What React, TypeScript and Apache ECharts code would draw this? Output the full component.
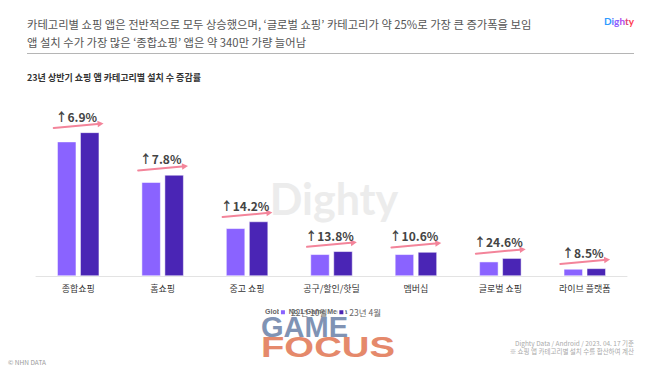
import React, { useEffect, useRef } from "react";
import * as echarts from "echarts";

const categories = ["종합쇼핑", "홈쇼핑", "중고 쇼핑", "공구/할인/핫딜", "멤버십", "글로벌 쇼핑", "라이브 플랫폼"];
const seriesNames = ["22년 10월", "23년 4월"];
const oct22 = [4930, 3440, 1750, 796, 796, 525, 257];
const apr23 = [5270, 3708, 1999, 906, 880, 654, 279];
const growthPct = [6.9, 7.8, 14.2, 13.8, 10.6, 24.6, 8.5];
const headline = [
  "카테고리별 쇼핑 앱은 전반적으로 모두 상승했으며, ‘글로벌 쇼핑’ 카테고리가 약 25%로 가장 큰 증가폭을 보임",
  "앱 설치 수가 가장 많은 ‘종합쇼핑’ 앱은 약 340만 가량 늘어남",
];
const chartTitle = "23년 상반기 쇼핑 앱 카테고리별 설치 수 증감률";
const footnotes = ["Dighty Data / Android / 2023. 04. 17 기준", "※ 쇼핑 앱 카테고리별 설치 수를 합산하여 계산"];
const copyright = "© NHN DATA";
const logoLetters = ["D", "i", "g", "h", "t", "y"];
const logoColors = ["#2F9BFF", "#5A7BFF", "#8A5CFF", "#B04AF0", "#E0407A", "#FF3B50"];

const FONT = '"Noto Sans CJK KR", "Noto Sans", sans-serif';

export default function App() {
  const ref = useRef<HTMLDivElement>(null);
  useEffect(() => {
    document.body.style.margin = "0";
    const chart = echarts.init(ref.current!, undefined, { renderer: "svg" });
    const pink = "#F3849A";
    const rich: any = {};
    logoLetters.forEach((_, i) => {
      rich["l" + i] = {
        fill: logoColors[i],
        font: 'bold 10px Lato, "Open Sans", sans-serif',
      };
    });
    const logoText = logoLetters.map((c, i) => `{l${i}|${c}}`).join("");
    const option: any = {
      animation: false,
      backgroundColor: "#ffffff",
      textStyle: { fontFamily: FONT },
      grid: { left: 36, right: 33, top: 112.5, bottom: 94, containLabel: false },
      legend: {
        data: seriesNames,
        top: 303,
        left: "center",
        icon: "rect",
        itemWidth: 6,
        itemHeight: 6,
        itemGap: 10,
        textStyle: { fontSize: 8.5, color: "#666", fontFamily: FONT },
      },
      xAxis: {
        type: "category",
        data: categories,
        axisLine: { lineStyle: { color: "#e3e3e3", width: 1 } },
        axisTick: { show: false },
        axisLabel: { fontSize: 9, color: "#333", margin: 8, fontFamily: FONT },
      },
      yAxis: {
        type: "value",
        min: 0,
        max: 6000,
        show: false,
        splitLine: { show: false },
      },
      graphic: [
        {
          type: "text",
          z: -10,
          x: 334,
          y: 198,
          style: {
            text: "Dighty",
            font: 'bold 43px Lato, "Open Sans", sans-serif',
            fill: "#ececec",
            align: "center",
            verticalAlign: "middle",
          },
        },
        {
          type: "text",
          x: 27,
          y: 24,
          style: { text: headline[0], font: `11.3px ${FONT}`, fill: "#555", verticalAlign: "middle" },
        },
        {
          type: "text",
          x: 27,
          y: 42,
          style: { text: headline[1], font: `11.3px ${FONT}`, fill: "#555", verticalAlign: "middle" },
        },
        {
          type: "line",
          shape: { x1: 27, y1: 53.5, x2: 634, y2: 53.5 },
          style: { stroke: "#b5b5b5", lineWidth: 1 },
        },
        {
          type: "text",
          x: 634,
          y: 21,
          style: {
            text: logoText,
            rich,
            align: "right",
            verticalAlign: "middle",
          },
        },
        {
          type: "text",
          x: 27,
          y: 77,
          style: { text: chartTitle, font: `bold 9px ${FONT}`, fill: "#333", verticalAlign: "middle" },
        },
        {
          type: "text",
          x: 634,
          y: 343,
          style: { text: footnotes[0], font: `6.5px ${FONT}`, fill: "#aaa", align: "right", verticalAlign: "middle" },
        },
        {
          type: "text",
          x: 634,
          y: 351,
          style: { text: footnotes[1], font: `6.5px ${FONT}`, fill: "#aaa", align: "right", verticalAlign: "middle" },
        },
        {
          type: "text",
          x: 8,
          y: 362,
          style: { text: copyright, font: `6.5px ${FONT}`, fill: "#999", verticalAlign: "middle" },
        },
        {
          type: "group",
          z: 100,
          children: [
            {
              type: "text",
              x: 265,
              y: 311,
              style: { text: "Global No.1 Game Media", font: 'bold 7px "Liberation Sans", sans-serif', fill: "#666", verticalAlign: "middle" },
            },
            {
              type: "text",
              x: 261,
              y: 327,
              style: { text: "GAME", font: 'bold 29px "Liberation Sans", sans-serif', fill: "#8093B4", verticalAlign: "middle" },
            },
            {
              type: "text",
              x: 261,
              y: 347,
              scaleX: 1.32,
              style: { text: "FOCUS", font: 'bold 29px "Liberation Sans", sans-serif', fill: "#E5896B", verticalAlign: "middle" },
            },
          ],
        },
      ],
      series: [
        {
          name: seriesNames[0],
          type: "bar",
          data: oct22,
          barWidth: 19,
          barGap: "21%",
          itemStyle: { color: "#8A63FF", borderColor: "#ffffff", borderWidth: 0.5 },
        },
        {
          name: seriesNames[1],
          type: "bar",
          data: apr23,
          barWidth: 19,
          itemStyle: { color: "#4A25B5", borderColor: "#ffffff", borderWidth: 0.5 },
        },
        {
          type: "custom",
          coordinateSystem: "cartesian2d",
          z: 10,
          clip: false,
          encode: { x: 0, y: 1 },
          data: categories.map((_, i) => [i, apr23[i], growthPct[i]]),
          renderItem: (params: any, api: any) => {
            const i = api.value(0);
            const pt = api.coord([i, api.value(1)]);
            const bw = api.size([1, 0])[0];
            const cx = pt[0];
            const yEnd = pt[1] - 9;
            const yStart = yEnd + 4.5;
            const x0 = cx - bw * 0.29;
            const x1 = cx + bw * 0.3;
            const ang = Math.atan2(yEnd - yStart, x1 - x0);
            const hl = 6;
            const hw = 3.3;
            const bx = x1 - hl * Math.cos(ang);
            const by = yEnd - hl * Math.sin(ang);
            const p1 = [bx - hw * Math.sin(ang), by + hw * Math.cos(ang)];
            const p2 = [bx + hw * Math.sin(ang), by - hw * Math.cos(ang)];
            const pct = api.value(2) as number;
            return {
              type: "group",
              children: [
                {
                  type: "line",
                  shape: { x1: x0, y1: yStart, x2: bx, y2: by },
                  style: { stroke: pink, lineWidth: 2, lineCap: "round" },
                },
                {
                  type: "polygon",
                  shape: { points: [[x1, yEnd], p1, p2] },
                  style: { fill: pink },
                },
                {
                  type: "text",
                  x: cx - 2,
                  y: (yStart + yEnd) / 2 - 9.5,
                  style: {
                    text: "↑" + pct.toFixed(1) + "%",
                    font: `bold 12px ${FONT}`,
                    fill: "#444",
                    align: "center",
                    verticalAlign: "middle",
                  },
                },
              ],
            };
          },
        },
      ],
    };
    chart.setOption(option);
    return () => chart.dispose();
  }, []);
  return <div ref={ref} style={{ position: "absolute", left: 0, top: 0, width: 660, height: 370 }} />;
}
